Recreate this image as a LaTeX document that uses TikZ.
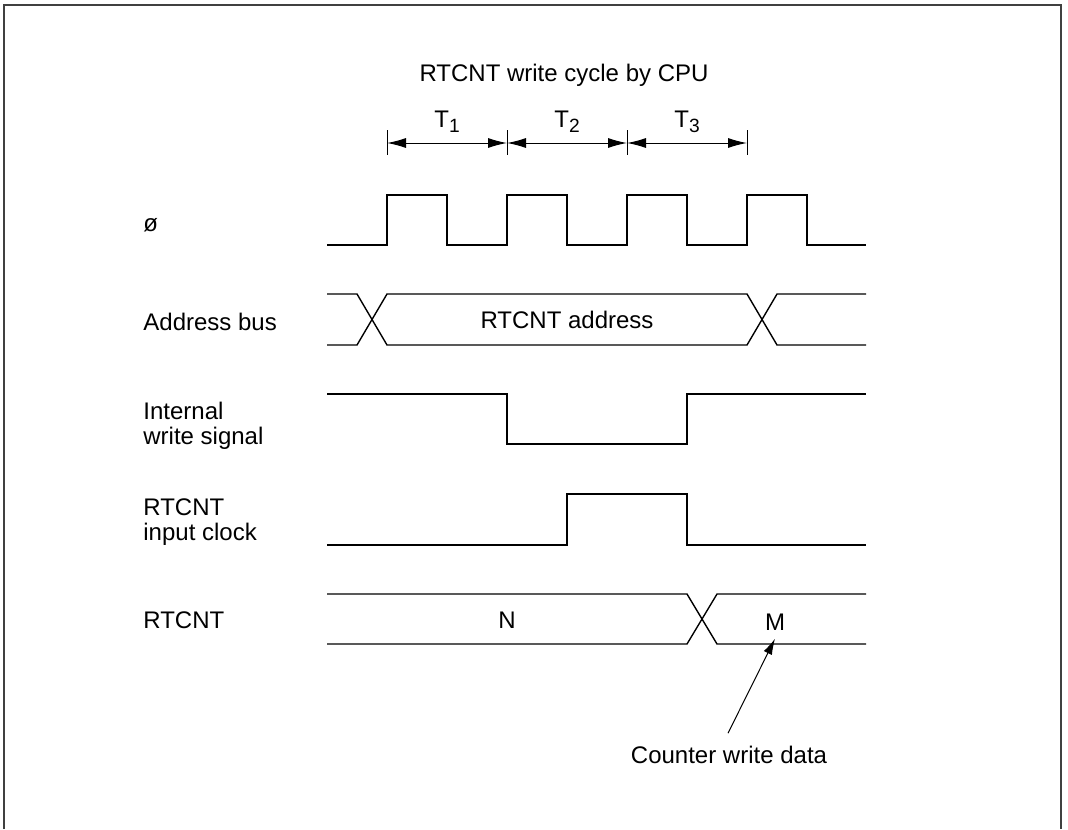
\documentclass[tikz,border=0pt]{standalone}
\usepackage{fontspec}
\setmainfont{Liberation Sans}
\usepackage{xcolor}
\definecolor{cWave}{HTML}{000000}
\definecolor{cFrame}{HTML}{404040}
\usetikzlibrary{arrows.meta,calc}
\newcommand{\tsub}[1]{\raisebox{-2.5pt}{\fontsize{9.6}{10}\selectfont #1}}
\tikzset{
  frame-line/.style={draw=cFrame,line width=0.7pt},
  wave/.style={draw=cWave,line width=0.7pt,line join=miter},
  tick-line/.style={draw=cWave,line width=0.5pt},
  span-arrow/.style={{Latex[length=9.5pt,width=5pt]}-{Latex[length=9.5pt,width=5pt]},line width=0.5pt,draw=cWave},
  pointer/.style={-{Latex[length=8pt,width=4.5pt]},line width=0.5pt,draw=cWave},
  txt/.style={font=\fontsize{12}{12.6}\selectfont,inner sep=0pt},
  sig-name/.style={txt,align=left},
}

\begin{document}
\begin{tikzpicture}[x=0.5pt,y=-0.5pt]
  \useasboundingbox (0,0) rectangle (1068,829);
  \draw[frame-line] (4,829) -- (4,5) -- (1061,5) -- (1061,829);

  % cycle title and T states
  \node[txt,anchor=base] (title) at (564,82) {RTCNT write cycle by CPU};
  \foreach \x [count=\i] in {387,507,627,747} {
    \draw[tick-line] (\x,130) -- (\x,155);
    \coordinate (t\i) at (\x,143);
  }
  \foreach \a/\b [count=\i] in {t1/t2,t2/t3,t3/t4} {
    \draw[span-arrow] (\a) -- (\b);
    \node[txt,anchor=base] (T\i) at ($(\a)!0.5!(\b)+(0,-16)$) {T\tsub{\i}};
  }

  % signal names
  \node[sig-name,anchor=base west] (phi)  at (143,231) {ø};
  \node[sig-name,anchor=base west] (abus) at (143,330) {Address bus};
  \node[sig-name,anchor=north west] (wr)  at (143,402) {Internal\\write signal};
  \node[sig-name,anchor=north west] (clk) at (143,498) {RTCNT\\input clock};
  \node[sig-name,anchor=base west] (cnt)  at (143,628) {RTCNT};

  % system clock
  \draw[wave] (327,245) \foreach \x in {387,507,627,747} {
      -- (\x,245) -- (\x,195) -- (\x+60,195) -- (\x+60,245)} -- (866,245);

  % address bus
  \draw[wave] (327,294) -- (357,294) -- (387,345) -- (747,345) -- (777,294) -- (866,294);
  \draw[wave] (327,345) -- (357,345) -- (387,294) -- (747,294) -- (777,345) -- (866,345);
  \node[txt] (addr) at (567,320) {RTCNT address};

  % internal write signal
  \draw[wave] (327,394) -- (507,394) -- (507,444) -- (687,444) -- (687,394) -- (866,394);

  % RTCNT input clock
  \draw[wave] (327,545) -- (567,545) -- (567,494) -- (687,494) -- (687,545) -- (866,545);

  % RTCNT contents
  \draw[wave] (327,594) -- (687,594) -- (717,644) -- (866,644);
  \draw[wave] (327,644) -- (687,644) -- (717,594) -- (866,594);
  \node[txt] (N) at (507,620) {N};
  \node[txt] (M) at (775,622) {M};

  \node[txt,anchor=base] (cwd) at (729,763) {Counter write data};
  \draw[pointer] ($(cwd.north)+(-1,-12)$) -- ($(M.south)+(0,8)$);
\end{tikzpicture}
\end{document}
